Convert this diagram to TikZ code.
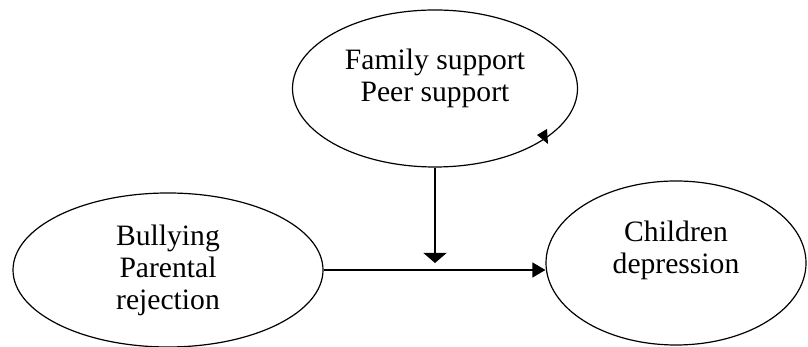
\documentclass[tikz,border=0pt]{standalone}
\usepackage{fontspec}
\setmainfont{Liberation Serif}
\usepackage{tikz}
\usetikzlibrary{shapes.geometric, arrows.meta}

\begin{document}
\begin{tikzpicture}[x=0.5pt, y=0.5pt,
        bubble/.style={ellipse, draw, line width=0.6pt, inner sep=0pt},
        words/.style={align=center, font=\fontsize{14.8}{16}\selectfont},
        link/.style={line width=0.6pt}]
            \useasboundingbox (0,0) rectangle (808,347);
            \node at (435,258.5) [bubble, minimum width=142.5pt, minimum height=78.5pt] (sup) {};
            \node at (168,77) [bubble, minimum width=155pt, minimum height=77pt] (bul) {};
            \node at (676,84) [bubble, minimum width=130pt, minimum height=82pt] (dep) {};
            \node at (435,269) [words] (supt) {Family support\\Peer support};
            \node at (168,77) [words] (bult) {Bullying\\Parental\\rejection};
            \node at (676,97) [words] (dept) {Children\\depression};
            \coordinate (hit) at (sup.south |- bul.east);
            \draw[link, -{Triangle[width=7.5pt, length=6.5pt]}] (bul.east) -- (dep.west |- bul.east);
            \draw[link, -{Triangle[width=11.5pt, length=5pt]}] (sup.south) -- ([yshift=3.5pt]hit);
            % loose arrow tip on the top ellipse
            \fill (537,212) -- (547,218) -- (548,203) -- cycle;
        \end{tikzpicture}
\end{document}
